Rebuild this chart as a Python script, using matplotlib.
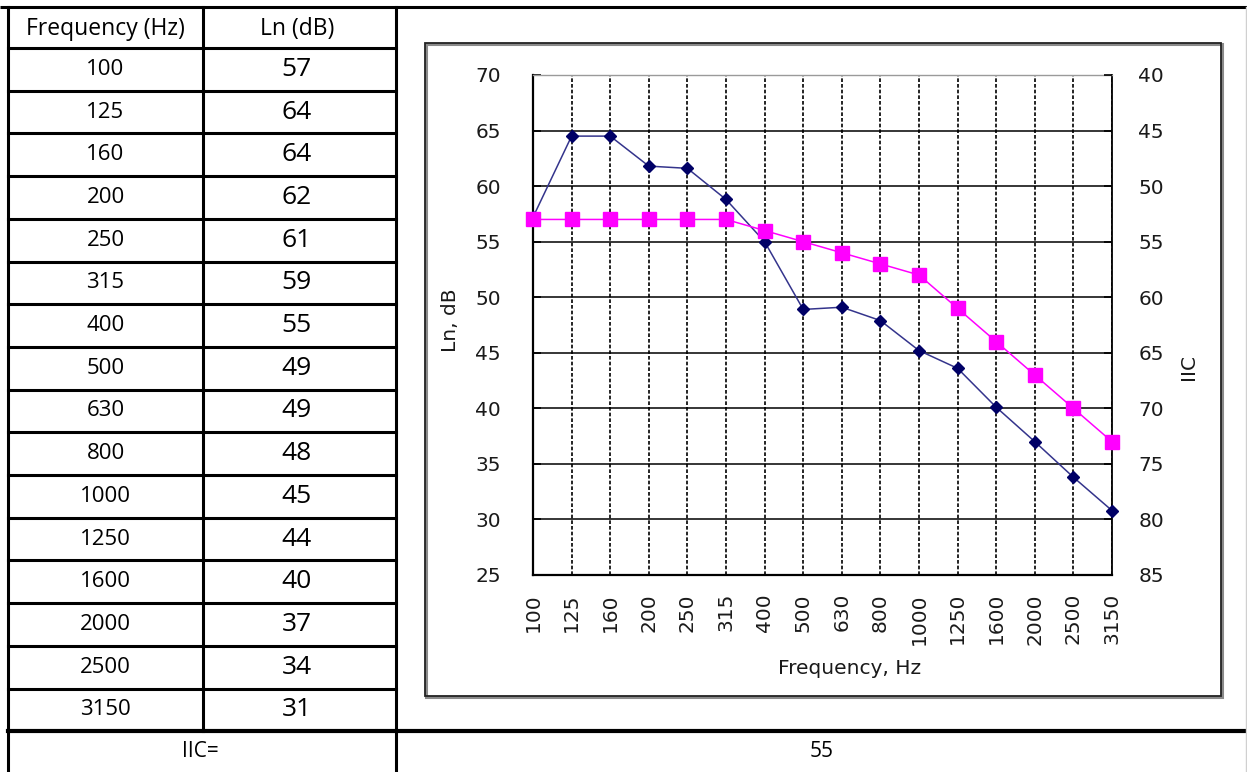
import matplotlib
matplotlib.use("Agg")
import matplotlib.pyplot as plt
from matplotlib.patches import Rectangle
import numpy as np

# ---------------- data ----------------
freq_labels = ['100', '125', '160', '200', '250', '315', '400', '500', '630',
               '800', '1000', '1250', '1600', '2000', '2500', '3150']
ln_table = [57, 64, 64, 62, 61, 59, 55, 49, 49, 48, 45, 44, 40, 37, 34, 31]
ln_measured = [57.2, 64.5, 64.5, 61.8, 61.6, 58.8, 55.0, 48.9, 49.1, 47.9,
               45.2, 43.6, 40.1, 37.0, 33.8, 30.8]
iic_contour = [57, 57, 57, 57, 57, 57, 56, 55, 54, 53, 52, 49, 46, 43, 40, 37]
iic_value = 55
header = ['Frequency (Hz)', 'Ln (dB)']
left_ticks = [25, 30, 35, 40, 45, 50, 55, 60, 65, 70]
right_ticks = [40, 45, 50, 55, 60, 65, 70, 75, 80, 85]

# ---------------- figure ----------------
W, H = 1247, 772
fig = plt.figure(figsize=(W / 100, H / 100), dpi=100)
fig.patch.set_facecolor('white')

bg = fig.add_axes([0, 0, 1, 1])
bg.set_xlim(0, W)
bg.set_ylim(H, 0)
bg.axis('off')

table_font = 'Open Sans'
lw_tab = 2.2

# table grid
x_left, x_mid, x_right = 8, 203, 396
y_top, y_head = 7, 48
row_h = 42.7
n = len(freq_labels)
y_bottom = y_head + n * row_h

bg.plot([0, W], [y_top, y_top], color='black', lw=lw_tab, solid_capstyle='butt')
bg.plot([x_left, x_left], [y_top, H], color='black', lw=lw_tab)
bg.plot([x_mid, x_mid], [y_top, y_bottom], color='black', lw=lw_tab)
bg.plot([x_right, x_right], [y_top, H], color='black', lw=lw_tab)
bg.plot([x_left, x_right], [y_head, y_head], color='black', lw=lw_tab)
for k in range(1, n):
    y = y_head + k * row_h
    bg.plot([x_left, x_right], [y, y], color='black', lw=lw_tab)
bg.plot([x_left, W], [y_bottom, y_bottom], color='black', lw=3.0)
bg.plot([W - 1, W - 1], [y_top, H], color='#d0d0d0', lw=1.0)

bg.text((x_left + x_mid) / 2, 29, header[0],
        ha='center', va='center', fontsize=16.5, family=table_font, color='black')
bg.text((x_mid + x_right) / 2 - 2, 29, header[1],
        ha='center', va='center', fontsize=16.5, family=table_font, color='black')
for i, (f, v) in enumerate(zip(freq_labels, ln_table)):
    yc = y_head + (i + 0.5) * row_h
    bg.text((x_left + x_mid) / 2, yc, f, ha='center', va='center',
            fontsize=16, family=table_font, color='black')
    bg.text((x_mid + x_right) / 2 - 3, yc, str(v), ha='center', va='center',
            fontsize=19, family=table_font, color='black')

y_iic = (y_bottom + H) / 2
bg.text(200, y_iic, 'IIC=', ha='center', va='center', fontsize=15,
        family=table_font, color='black')
bg.text(822, y_iic, str(iic_value), ha='center', va='center', fontsize=15,
        family=table_font, color='black')

# chart box
bg.add_patch(Rectangle((426, 44), 1222 - 426, 697 - 44, facecolor='white',
                       edgecolor='#8a8a8a', lw=2.2, zorder=1))
bg.add_patch(Rectangle((425, 43), 1222 - 426, 697 - 44, facecolor='none',
                       edgecolor='#222222', lw=1.3, zorder=2))

# ---------------- chart ----------------
px_l, px_r, px_t, px_b = 533, 1112, 75, 575
ax = fig.add_axes([px_l / W, 1 - px_b / H, (px_r - px_l) / W, (px_b - px_t) / H])
ax.set_facecolor('white')
x = np.arange(n)
ax.set_xlim(0, n - 1)
ax.set_ylim(25, 70)
ax.set_yticks(left_ticks)
ax.set_xticks(x)
ax.set_xticklabels(freq_labels, rotation=90)

tick_color = '#1a1a1a'
ax.tick_params(axis='y', direction='in', length=6, width=1.2, colors='black',
               labelcolor=tick_color, labelsize=14.5, pad=23)
ax.tick_params(axis='x', direction='in', length=0, labelcolor=tick_color,
               labelsize=14.5, pad=13)

ax.grid(axis='y', color='black', lw=1.1, ls='-')
ax.grid(axis='x', color='black', lw=1.2, ls=(0, (2.2, 1.2)))
ax.set_axisbelow(True)
ylines = ax.yaxis.get_gridlines()
ylines[-1].set_color('#9a9a9a')

for side in ['left', 'bottom']:
    ax.spines[side].set_linewidth(1.6)
    ax.spines[side].set_color('black')
ax.spines['right'].set_linewidth(1.3)
ax.spines['right'].set_color('black')
ax.spines['top'].set_linewidth(1.0)
ax.spines['top'].set_color('#9a9a9a')

ax.plot(x, ln_measured, color='#34348c', lw=1.1, marker='D', markersize=6.5,
        markerfacecolor='#000066', markeredgecolor='#000066', zorder=4, clip_on=False)
ax.plot(x, iic_contour, color='#ff00ff', lw=1.1, marker='s', markersize=10,
        markerfacecolor='#ff00ff', markeredgecolor='#ff00ff', zorder=5, clip_on=False)

ax2 = ax.twinx()
ax2.set_ylim(85, 40)
ax2.set_yticks(right_ticks)
ax2.tick_params(axis='y', direction='in', length=6, width=1.2, colors='black',
                labelcolor=tick_color, labelsize=14.5, pad=19)
for s in ax2.spines.values():
    s.set_visible(False)

# axis titles
bg.text(850, 668, 'Frequency, Hz', ha='center', va='center', fontsize=14.5,
        color=tick_color, zorder=5)
bg.text(450, 320, 'Ln, dB', ha='center', va='center', fontsize=14.5,
        rotation=90, color=tick_color, zorder=5)
bg.text(1188, 367, 'IIC', ha='center', va='center', fontsize=14.5,
        rotation=90, color=tick_color, zorder=5)

fig.savefig('out.png', dpi=100, facecolor='white')
